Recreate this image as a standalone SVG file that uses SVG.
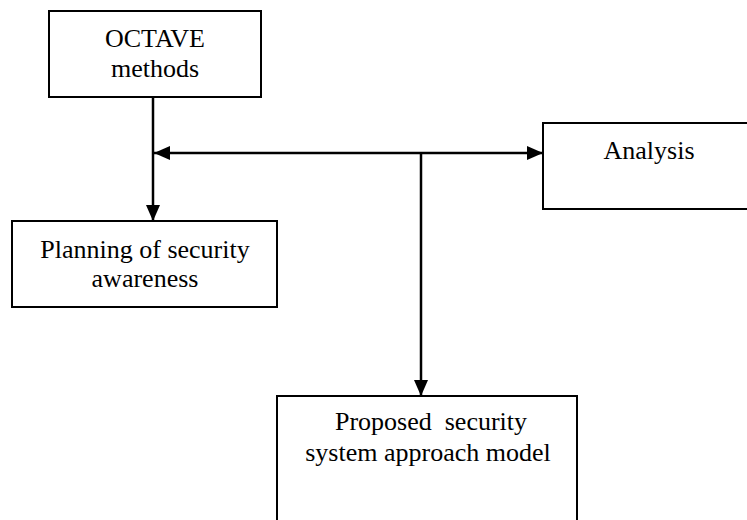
<svg xmlns="http://www.w3.org/2000/svg" width="747" height="520" viewBox="0 0 747 520">
<style>
.box{fill:#fff;stroke:#000;stroke-width:2}
.t{font-family:"Liberation Serif","Times New Roman",serif;font-size:26px;fill:#000;text-anchor:middle}
.c{stroke:#000;stroke-width:2.5;fill:none}
</style>
<defs>
<marker id="ah" markerUnits="userSpaceOnUse" markerWidth="16" markerHeight="14" refX="16" refY="7" orient="auto-start-reverse">
<path d="M0,0 L16,7 L0,14 Z" fill="#000"/>
</marker>
</defs>
<rect width="747" height="520" fill="#fff"/>
<g id="octave">
<rect class="box" x="49" y="11" width="212" height="86"/>
<text class="t" x="155" y="47">OCTAVE</text>
<text class="t" x="155" y="77">methods</text>
</g>
<g id="analysis">
<rect class="box" x="543" y="123" width="220" height="86"/>
<text class="t" x="649" y="159">Analysis</text>
</g>
<g id="planning">
<rect class="box" x="12" y="221" width="265" height="86"/>
<text class="t" x="145" y="258">Planning of security</text>
<text class="t" x="145" y="287">awareness</text>
</g>
<g id="proposed">
<rect class="box" x="277" y="396" width="300" height="140"/>
<text class="t" x="431" y="430" xml:space="preserve">Proposed  security</text>
<text class="t" x="428" y="461">system approach model</text>
</g>
<g id="connectors">
<line class="c" x1="153" y1="97" x2="153" y2="221" marker-end="url(#ah)"/>
<line class="c" x1="154" y1="153" x2="543" y2="153" marker-start="url(#ah)" marker-end="url(#ah)"/>
<line class="c" x1="421" y1="153" x2="421" y2="396" marker-end="url(#ah)"/>
</g>
</svg>
